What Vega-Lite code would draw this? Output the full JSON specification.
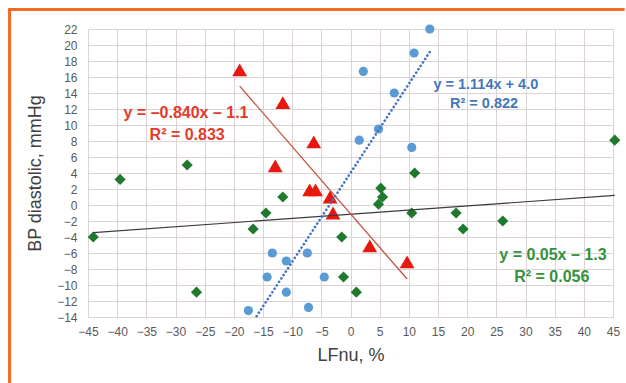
{
  "$schema": "https://vega.github.io/schema/vega-lite/v6.json",
  "width": 525,
  "height": 288,
  "autosize": {"type": "none"},
  "padding": {"left": 88, "top": 29, "right": 13, "bottom": 66},
  "background": "white",
  "config": {
    "view": {"stroke": null},
    "axis": {
      "domain": false,
      "ticks": false,
      "tickSize": 0,
      "grid": true,
      "gridColor": "#ddd3d3",
      "gridWidth": 1,
      "labelColor": "#595959",
      "labelFont": "Liberation Sans",
      "labelFontSize": 12,
      "labelOverlap": false,
      "labelFlush": false,
      "titleFont": "Liberation Sans",
      "titleFontSize": 18,
      "titleFontWeight": "normal",
      "titleColor": "#404040"
    },
    "axisX": {"labelPadding": 9, "titlePadding": 9, "labelOverlap": false, "labelFlush": false},
    "axisY": {"labelPadding": 11, "titlePadding": 12, "labelOverlap": false, "labelFlush": false}
  },
  "datasets": {
    "points": [
      {"group": "A", "lfnu": -19.0, "bp": 16.9},
      {"group": "A", "lfnu": -11.6, "bp": 12.8},
      {"group": "A", "lfnu": -6.3, "bp": 7.9},
      {"group": "A", "lfnu": -12.9, "bp": 4.9},
      {"group": "A", "lfnu": -7.0, "bp": 1.9},
      {"group": "A", "lfnu": -6.0, "bp": 1.9},
      {"group": "A", "lfnu": -3.5, "bp": 1.0},
      {"group": "A", "lfnu": -3.0, "bp": -1.0},
      {"group": "A", "lfnu": 3.3, "bp": -5.1},
      {"group": "A", "lfnu": 9.7, "bp": -7.1},
      {"group": "B", "lfnu": 13.6, "bp": 22.0},
      {"group": "B", "lfnu": 10.9, "bp": 19.0},
      {"group": "B", "lfnu": 2.2, "bp": 16.7},
      {"group": "B", "lfnu": 7.5, "bp": 14.0},
      {"group": "B", "lfnu": 4.8, "bp": 9.5},
      {"group": "B", "lfnu": 1.5, "bp": 8.1},
      {"group": "B", "lfnu": 10.5, "bp": 7.2},
      {"group": "B", "lfnu": -13.4, "bp": -6.0},
      {"group": "B", "lfnu": -11.0, "bp": -7.0},
      {"group": "B", "lfnu": -7.4, "bp": -6.0},
      {"group": "B", "lfnu": -14.3, "bp": -9.0},
      {"group": "B", "lfnu": -4.5, "bp": -9.0},
      {"group": "B", "lfnu": -11.0, "bp": -10.9},
      {"group": "B", "lfnu": -17.5, "bp": -13.2},
      {"group": "B", "lfnu": -7.2, "bp": -12.8},
      {"group": "C", "lfnu": -44.1, "bp": -4.0},
      {"group": "C", "lfnu": -39.5, "bp": 3.2},
      {"group": "C", "lfnu": -28.0, "bp": 5.0},
      {"group": "C", "lfnu": -26.4, "bp": -10.9},
      {"group": "C", "lfnu": -16.7, "bp": -3.0},
      {"group": "C", "lfnu": -14.5, "bp": -1.0},
      {"group": "C", "lfnu": -11.6, "bp": 1.0},
      {"group": "C", "lfnu": -1.5, "bp": -4.0},
      {"group": "C", "lfnu": -1.2, "bp": -9.0},
      {"group": "C", "lfnu": 1.0, "bp": -10.9},
      {"group": "C", "lfnu": 4.8, "bp": 0.1},
      {"group": "C", "lfnu": 5.2, "bp": 2.1},
      {"group": "C", "lfnu": 5.5, "bp": 1.0},
      {"group": "C", "lfnu": 10.5, "bp": -1.0},
      {"group": "C", "lfnu": 11.0, "bp": 4.0},
      {"group": "C", "lfnu": 18.1, "bp": -1.0},
      {"group": "C", "lfnu": 19.3, "bp": -3.0},
      {"group": "C", "lfnu": 26.1, "bp": -2.0},
      {"group": "C", "lfnu": 45.3, "bp": 8.1}
    ],
    "trends": [
      {"group": "A", "lfnu": -19.0, "bp": 14.86},
      {"group": "A", "lfnu": 9.7, "bp": -9.25},
      {"group": "B", "lfnu": -16.1, "bp": -13.9},
      {"group": "B", "lfnu": 13.6, "bp": 19.15},
      {"group": "C", "lfnu": -44.1, "bp": -3.45},
      {"group": "C", "lfnu": 45.3, "bp": 1.2}
    ],
    "labels": [
      {"group": "A", "line": "y = \u20130.840x \u2013 1.1", "lfnu": -28.2, "bp": 11.5},
      {"group": "A", "line": "R\u00b2 = 0.833", "lfnu": -28.0, "bp": 8.75},
      {"group": "B", "line": "y = 1.114x + 4.0", "lfnu": 23.2, "bp": 15.0},
      {"group": "B", "line": "R\u00b2 = 0.822", "lfnu": 22.9, "bp": 12.6},
      {"group": "C", "line": "y = 0.05x \u2013 1.3", "lfnu": 34.7, "bp": -6.25},
      {"group": "C", "line": "R\u00b2 = 0.056", "lfnu": 34.5, "bp": -9.0}
    ],
    "frame": [{"k": 1}]
  },
  "layer": [
    {
      "data": {"name": "points"},
      "transform": [{"filter": "datum.group === 'C'"}],
      "mark": {"type": "point", "shape": "diamond", "filled": true, "opacity": 1, "color": "#1f7a2e", "size": 125},
      "encoding": {
        "x": {"field": "lfnu", "type": "quantitative", "title": "LFnu, %", "scale": {"domain": [-45, 45], "nice": false, "zero": false}, "axis": {"values": [-45, -40, -35, -30, -25, -20, -15, -10, -5, 0, 5, 10, 15, 20, 25, 30, 35, 40, 45], "labelOverlap": false, "labelFlush": false}},
        "y": {"field": "bp", "type": "quantitative", "title": "BP diastolic, mmHg", "scale": {"domain": [-14, 22], "nice": false, "zero": false}, "axis": {"values": [-14, -12, -10, -8, -6, -4, -2, 0, 2, 4, 6, 8, 10, 12, 14, 16, 18, 20, 22], "labelOverlap": false, "labelFlush": false}}
      }
    },
    {
      "data": {"name": "points"},
      "transform": [{"filter": "datum.group === 'B'"}],
      "mark": {"type": "point", "shape": "circle", "filled": true, "opacity": 1, "color": "#5b9bd5", "size": 85},
      "encoding": {
        "x": {"field": "lfnu", "type": "quantitative", "title": "LFnu, %", "scale": {"domain": [-45, 45], "nice": false, "zero": false}, "axis": {"values": [-45, -40, -35, -30, -25, -20, -15, -10, -5, 0, 5, 10, 15, 20, 25, 30, 35, 40, 45], "labelOverlap": false, "labelFlush": false}},
        "y": {"field": "bp", "type": "quantitative", "title": "BP diastolic, mmHg", "scale": {"domain": [-14, 22], "nice": false, "zero": false}, "axis": {"values": [-14, -12, -10, -8, -6, -4, -2, 0, 2, 4, 6, 8, 10, 12, 14, 16, 18, 20, 22], "labelOverlap": false, "labelFlush": false}}
      }
    },
    {
      "data": {"name": "points"},
      "transform": [{"filter": "datum.group === 'A'"}],
      "mark": {"type": "point", "shape": "triangle-up", "filled": true, "opacity": 1, "color": "#e8180f", "size": 220},
      "encoding": {
        "x": {"field": "lfnu", "type": "quantitative", "title": "LFnu, %", "scale": {"domain": [-45, 45], "nice": false, "zero": false}, "axis": {"values": [-45, -40, -35, -30, -25, -20, -15, -10, -5, 0, 5, 10, 15, 20, 25, 30, 35, 40, 45], "labelOverlap": false, "labelFlush": false}},
        "y": {"field": "bp", "type": "quantitative", "title": "BP diastolic, mmHg", "scale": {"domain": [-14, 22], "nice": false, "zero": false}, "axis": {"values": [-14, -12, -10, -8, -6, -4, -2, 0, 2, 4, 6, 8, 10, 12, 14, 16, 18, 20, 22], "labelOverlap": false, "labelFlush": false}}
      }
    },
    {
      "data": {"name": "trends"},
      "transform": [{"filter": "datum.group === 'C'"}],
      "mark": {"type": "line", "color": "#3a3a3a", "strokeWidth": 1.2},
      "encoding": {
        "x": {"field": "lfnu", "type": "quantitative", "title": "LFnu, %", "scale": {"domain": [-45, 45], "nice": false, "zero": false}, "axis": {"values": [-45, -40, -35, -30, -25, -20, -15, -10, -5, 0, 5, 10, 15, 20, 25, 30, 35, 40, 45], "labelOverlap": false, "labelFlush": false}},
        "y": {"field": "bp", "type": "quantitative", "title": "BP diastolic, mmHg", "scale": {"domain": [-14, 22], "nice": false, "zero": false}, "axis": {"values": [-14, -12, -10, -8, -6, -4, -2, 0, 2, 4, 6, 8, 10, 12, 14, 16, 18, 20, 22], "labelOverlap": false, "labelFlush": false}}
      }
    },
    {
      "data": {"name": "trends"},
      "transform": [{"filter": "datum.group === 'A'"}],
      "mark": {"type": "line", "color": "#c5503f", "strokeWidth": 1.3},
      "encoding": {
        "x": {"field": "lfnu", "type": "quantitative", "title": "LFnu, %", "scale": {"domain": [-45, 45], "nice": false, "zero": false}, "axis": {"values": [-45, -40, -35, -30, -25, -20, -15, -10, -5, 0, 5, 10, 15, 20, 25, 30, 35, 40, 45], "labelOverlap": false, "labelFlush": false}},
        "y": {"field": "bp", "type": "quantitative", "title": "BP diastolic, mmHg", "scale": {"domain": [-14, 22], "nice": false, "zero": false}, "axis": {"values": [-14, -12, -10, -8, -6, -4, -2, 0, 2, 4, 6, 8, 10, 12, 14, 16, 18, 20, 22], "labelOverlap": false, "labelFlush": false}}
      }
    },
    {
      "data": {"name": "trends"},
      "transform": [{"filter": "datum.group === 'B'"}],
      "mark": {"type": "line", "color": "#4472c4", "strokeWidth": 2.6, "strokeDash": [0.1, 4], "strokeCap": "round"},
      "encoding": {
        "x": {"field": "lfnu", "type": "quantitative", "title": "LFnu, %", "scale": {"domain": [-45, 45], "nice": false, "zero": false}, "axis": {"values": [-45, -40, -35, -30, -25, -20, -15, -10, -5, 0, 5, 10, 15, 20, 25, 30, 35, 40, 45], "labelOverlap": false, "labelFlush": false}},
        "y": {"field": "bp", "type": "quantitative", "title": "BP diastolic, mmHg", "scale": {"domain": [-14, 22], "nice": false, "zero": false}, "axis": {"values": [-14, -12, -10, -8, -6, -4, -2, 0, 2, 4, 6, 8, 10, 12, 14, 16, 18, 20, 22], "labelOverlap": false, "labelFlush": false}}
      }
    },
    {
      "data": {"name": "labels"},
      "transform": [{"filter": "datum.group === 'A'"}],
      "mark": {"type": "text", "font": "Liberation Sans", "fontWeight": "bold", "fontSize": 16, "align": "center", "baseline": "middle", "color": "#e53a2e"},
      "encoding": {
        "x": {"field": "lfnu", "type": "quantitative", "title": "LFnu, %", "scale": {"domain": [-45, 45], "nice": false, "zero": false}, "axis": {"values": [-45, -40, -35, -30, -25, -20, -15, -10, -5, 0, 5, 10, 15, 20, 25, 30, 35, 40, 45], "labelOverlap": false, "labelFlush": false}},
        "y": {"field": "bp", "type": "quantitative", "title": "BP diastolic, mmHg", "scale": {"domain": [-14, 22], "nice": false, "zero": false}, "axis": {"values": [-14, -12, -10, -8, -6, -4, -2, 0, 2, 4, 6, 8, 10, 12, 14, 16, 18, 20, 22], "labelOverlap": false, "labelFlush": false}},
        "text": {"field": "line"}
      }
    },
    {
      "data": {"name": "labels"},
      "transform": [{"filter": "datum.group === 'C'"}],
      "mark": {"type": "text", "font": "Liberation Sans", "fontWeight": "bold", "fontSize": 16, "align": "center", "baseline": "middle", "color": "#32923c"},
      "encoding": {
        "x": {"field": "lfnu", "type": "quantitative", "title": "LFnu, %", "scale": {"domain": [-45, 45], "nice": false, "zero": false}, "axis": {"values": [-45, -40, -35, -30, -25, -20, -15, -10, -5, 0, 5, 10, 15, 20, 25, 30, 35, 40, 45], "labelOverlap": false, "labelFlush": false}},
        "y": {"field": "bp", "type": "quantitative", "title": "BP diastolic, mmHg", "scale": {"domain": [-14, 22], "nice": false, "zero": false}, "axis": {"values": [-14, -12, -10, -8, -6, -4, -2, 0, 2, 4, 6, 8, 10, 12, 14, 16, 18, 20, 22], "labelOverlap": false, "labelFlush": false}},
        "text": {"field": "line"}
      }
    },
    {
      "data": {"name": "labels"},
      "transform": [{"filter": "datum.group === 'B'"}],
      "mark": {"type": "text", "font": "Liberation Sans", "fontWeight": "bold", "fontSize": 14.5, "align": "center", "baseline": "middle", "color": "#4277bb"},
      "encoding": {
        "x": {"field": "lfnu", "type": "quantitative", "title": "LFnu, %", "scale": {"domain": [-45, 45], "nice": false, "zero": false}, "axis": {"values": [-45, -40, -35, -30, -25, -20, -15, -10, -5, 0, 5, 10, 15, 20, 25, 30, 35, 40, 45], "labelOverlap": false, "labelFlush": false}},
        "y": {"field": "bp", "type": "quantitative", "title": "BP diastolic, mmHg", "scale": {"domain": [-14, 22], "nice": false, "zero": false}, "axis": {"values": [-14, -12, -10, -8, -6, -4, -2, 0, 2, 4, 6, 8, 10, 12, 14, 16, 18, 20, 22], "labelOverlap": false, "labelFlush": false}},
        "text": {"field": "line"}
      }
    },
    {
      "data": {"name": "frame"},
      "mark": {"type": "rule", "color": "#f26a24", "strokeWidth": 3, "clip": false},
      "encoding": {
        "x": {"datum": -58.6, "type": "quantitative", "title": "LFnu, %", "scale": {"domain": [-45, 45], "nice": false, "zero": false}, "axis": {"values": [-45, -40, -35, -30, -25, -20, -15, -10, -5, 0, 5, 10, 15, 20, 25, 30, 35, 40, 45], "labelOverlap": false, "labelFlush": false}},
        "x2": {"datum": 47},
        "y": {"datum": 24.45, "type": "quantitative", "title": "BP diastolic, mmHg", "scale": {"domain": [-14, 22], "nice": false, "zero": false}, "axis": {"values": [-14, -12, -10, -8, -6, -4, -2, 0, 2, 4, 6, 8, 10, 12, 14, 16, 18, 20, 22], "labelOverlap": false, "labelFlush": false}}
      }
    },
    {
      "data": {"name": "frame"},
      "mark": {"type": "rule", "color": "#f26a24", "strokeWidth": 3, "clip": false},
      "encoding": {
        "x": {"datum": -58.45, "type": "quantitative", "title": "LFnu, %", "scale": {"domain": [-45, 45], "nice": false, "zero": false}, "axis": {"values": [-45, -40, -35, -30, -25, -20, -15, -10, -5, 0, 5, 10, 15, 20, 25, 30, 35, 40, 45], "labelOverlap": false, "labelFlush": false}},
        "y": {"datum": 24.6, "type": "quantitative", "title": "BP diastolic, mmHg", "scale": {"domain": [-14, 22], "nice": false, "zero": false}, "axis": {"values": [-14, -12, -10, -8, -6, -4, -2, 0, 2, 4, 6, 8, 10, 12, 14, 16, 18, 20, 22], "labelOverlap": false, "labelFlush": false}},
        "y2": {"datum": -25}
      }
    }
  ]
}
